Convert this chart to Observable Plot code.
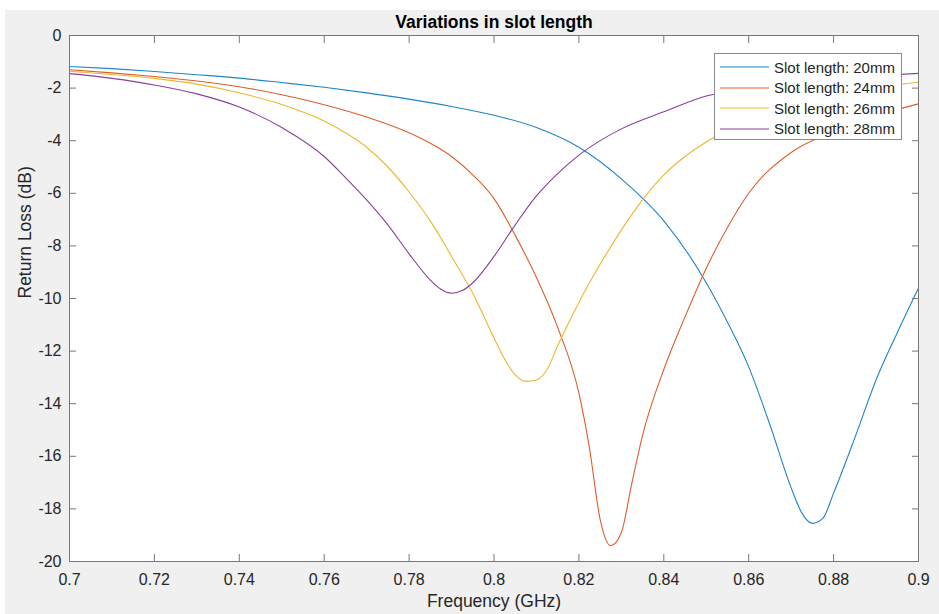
<!DOCTYPE html>
<html><head><meta charset="utf-8">
<script src="https://cdn.jsdelivr.net/npm/d3@7"></script>
<script src="https://cdn.jsdelivr.net/npm/@observablehq/plot@0.6"></script>
<style>
body{margin:0;background:#fff;font-family:"Liberation Sans",Arial,sans-serif;}
#fig{position:relative;width:939px;height:614px;overflow:hidden;}
#bg{position:absolute;left:5px;top:10px;right:0;bottom:0;background:#f0f0f0;}
#chart{position:absolute;left:0;top:0;}
#legend{position:absolute;left:714px;top:53px;width:188px;height:87px;box-sizing:border-box;border:1px solid #8a8a8a;background:#fff;padding-top:3px;}
.row{display:flex;align-items:center;height:20.5px;font-size:15px;color:#262626;white-space:nowrap;}
.row svg{margin-left:5px;margin-right:5px;}
</style></head><body>
<div id="fig"><div id="bg"></div><div id="chart"></div><div id="legend"></div></div>
<script>
const titleText = "Variations in slot length";
const xLabel = "Frequency (GHz)";
const yLabel = "Return Loss (dB)";
const seriesNames = ["Slot length: 20mm","Slot length: 24mm","Slot length: 26mm","Slot length: 28mm"];
const seriesColors = ["#1f84c6","#dc5e2a","#edb62e","#87409a"];
const xTicks = [0.7,0.72,0.74,0.76,0.78,0.8,0.82,0.84,0.86,0.88,0.9];
const yTicks = [0,-2,-4,-6,-8,-10,-12,-14,-16,-18,-20];

const f20 = [0.70,0.71,0.72,0.73,0.74,0.75,0.76,0.77,0.78,0.79,0.80,0.81,0.82,0.83,0.84,0.85,0.855,0.86,0.865,0.87,0.8725,0.875,0.8775,0.88,0.885,0.89,0.895,0.90];
const rl20 = [-1.18,-1.26,-1.37,-1.49,-1.62,-1.79,-1.97,-2.18,-2.42,-2.7,-3.03,-3.5,-4.25,-5.45,-7.05,-9.4,-10.9,-12.6,-14.8,-17.2,-18.15,-18.55,-18.35,-17.4,-15.3,-13.1,-11.3,-9.6];

const f24 = [0.70,0.71,0.72,0.73,0.74,0.75,0.76,0.77,0.78,0.785,0.79,0.795,0.80,0.805,0.81,0.815,0.82,0.8225,0.825,0.8275,0.83,0.8325,0.835,0.84,0.845,0.85,0.855,0.86,0.87,0.88,0.89,0.90];
const rl24 = [-1.30,-1.42,-1.56,-1.73,-1.95,-2.25,-2.63,-3.1,-3.7,-4.1,-4.6,-5.3,-6.2,-7.6,-9.2,-11.1,-13.6,-15.7,-18.4,-19.4,-18.9,-17.0,-15.2,-12.7,-10.7,-8.85,-7.3,-6.0,-4.45,-3.65,-3.05,-2.6];

const f26 = [0.70,0.71,0.72,0.73,0.74,0.75,0.76,0.765,0.77,0.775,0.78,0.785,0.79,0.795,0.80,0.8025,0.805,0.8075,0.81,0.8125,0.815,0.82,0.825,0.83,0.835,0.84,0.845,0.85,0.86,0.87,0.88,0.89,0.90];
const rl26 = [-1.36,-1.48,-1.63,-1.85,-2.18,-2.62,-3.25,-3.7,-4.25,-5.0,-5.95,-7.05,-8.4,-9.8,-11.5,-12.3,-12.9,-13.15,-13.1,-12.7,-11.8,-10.15,-8.7,-7.4,-6.25,-5.3,-4.6,-4.05,-3.22,-2.65,-2.25,-1.97,-1.78];

const f28 = [0.70,0.71,0.72,0.73,0.74,0.75,0.76,0.765,0.77,0.775,0.78,0.785,0.7875,0.79,0.7925,0.795,0.80,0.805,0.81,0.815,0.82,0.83,0.84,0.85,0.86,0.87,0.88,0.89,0.90];
const rl28 = [-1.45,-1.63,-1.88,-2.22,-2.72,-3.5,-4.6,-5.4,-6.25,-7.2,-8.3,-9.3,-9.65,-9.8,-9.7,-9.4,-8.4,-7.2,-6.1,-5.25,-4.55,-3.55,-2.9,-2.3,-2.0,-1.8,-1.65,-1.53,-1.44];

const series = [[f20,rl20],[f24,rl24],[f26,rl26],[f28,rl28]];
const data = [];
series.forEach(([fs,vs],k)=>fs.forEach((f,i)=>data.push({f, v:vs[i], name:seriesNames[k]})));

const axisColor = "#777";
const fmt = d => String(d);
const chart = Plot.plot({
  width:939, height:614,
  marginLeft:69, marginRight:21, marginTop:35, marginBottom:53,
  style:{background:"transparent", fontFamily:"'Liberation Sans',Arial,sans-serif", fontSize:"16px", color:"#262626"},
  x:{domain:[0.7,0.9]},
  y:{domain:[-20,0]},
  color:{domain:seriesNames, range:seriesColors},
  marks:[
    Plot.frame({fill:"white"}),
    Plot.line(data,{x:"f", y:"v", stroke:"name", strokeWidth:1.1, curve:"monotone-x"}),
    Plot.axisX(xTicks,{anchor:"bottom", tickSize:-7, tickFormat:()=>"", label:null, stroke:axisColor}),
    Plot.axisX(xTicks,{anchor:"top", tickSize:-7, tickFormat:()=>"", label:null, stroke:axisColor}),
    Plot.axisY(yTicks,{anchor:"left", tickSize:-7, tickFormat:()=>"", label:null, stroke:axisColor}),
    Plot.axisY(yTicks,{anchor:"right", tickSize:-7, tickFormat:()=>"", label:null, stroke:axisColor}),
    Plot.axisX(xTicks,{anchor:"bottom", tickSize:0, tickPadding:12, tickFormat:fmt, label:null, fontSize:16}),
    Plot.axisY(yTicks,{anchor:"left", tickSize:0, tickPadding:8, tickFormat:fmt, label:null, fontSize:16}),
    Plot.frame({stroke:axisColor}),
    Plot.text([xLabel],{frameAnchor:"bottom", lineAnchor:"middle", dy:40, text:d=>d, fontSize:17.5}),
    Plot.text([yLabel],{frameAnchor:"left", dx:-44, rotate:-90, text:d=>d, fontSize:17.5}),
    Plot.text([titleText],{frameAnchor:"top", lineAnchor:"middle", dy:-13, text:d=>d, fontSize:17.5, fontWeight:"bold", fill:"#000"})
  ]
});
document.getElementById("chart").append(chart);

const NS = "http://www.w3.org/2000/svg";
const legend = document.getElementById("legend");
seriesNames.forEach((n,i)=>{
  const row = document.createElement("div"); row.className="row";
  const s = document.createElementNS(NS,"svg"); s.setAttribute("width","49"); s.setAttribute("height","4");
  const ln = document.createElementNS(NS,"line");
  ln.setAttribute("x1","0"); ln.setAttribute("x2","49"); ln.setAttribute("y1","2"); ln.setAttribute("y2","2");
  ln.setAttribute("stroke", seriesColors[i]); ln.setAttribute("stroke-width","1.2");
  s.append(ln);
  const t = document.createElement("span"); t.textContent = n;
  row.append(s,t); legend.append(row);
});
</script>
</body></html>
